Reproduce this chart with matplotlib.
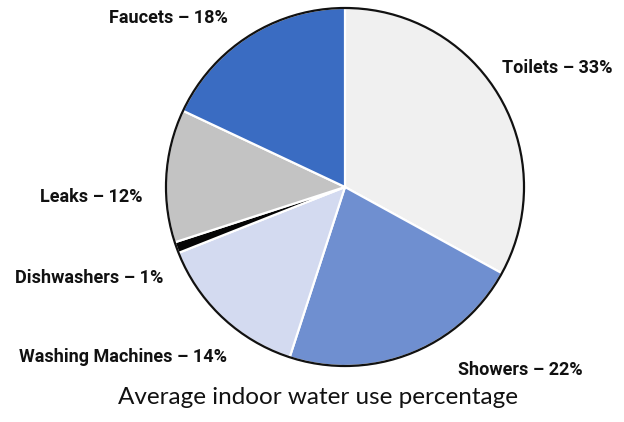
import matplotlib.pyplot as plt
from matplotlib.patches import Circle

# Data
categories = ["Toilets", "Showers", "Washing Machines", "Dishwashers", "Leaks", "Faucets"]
shares = [33, 22, 14, 1, 12, 18]
colors = ["#f0f0f0", "#6f8fd0", "#d3daf0", "#050505", "#c3c3c3", "#3a6cc2"]

# label anchor positions (pixels from top-left) and alignment
label_pos = [(613, 68, "right"), (458, 370, "left"), (227, 357, "right"),
             (163, 278, "right"), (143, 197, "right"), (228, 18, "right")]

W, H = 624, 422
fig = plt.figure(figsize=(W / 100, H / 100), dpi=100)
ax = fig.add_axes([0, 0, 1, 1])

cx, cy, r = 345, H - 187, 179
wedges, _ = ax.pie(shares, colors=colors, startangle=90, counterclock=False,
                   center=(cx, cy), radius=r, frame=True,
                   wedgeprops=dict(edgecolor="white", linewidth=1.6))
ax.set_xlim(0, W)
ax.set_ylim(0, H)
ax.axis("off")
ax.add_patch(Circle((cx, cy), r, fill=False, edgecolor="#111111", linewidth=1.6))

for name, val, (x, y, ha) in zip(categories, shares, label_pos):
    ax.text(x, H - y, f"{name} \u2013 {val}%", ha=ha, va="center",
            fontsize=13, fontweight="bold", family=["Roboto", "DejaVu Sans"],
            color="#111111")

ax.text(318, H - 398, "Average indoor water use percentage", ha="center", va="center",
        fontsize=17.5, family="Lato", color="#111111")

fig.savefig("out.png", dpi=100)
